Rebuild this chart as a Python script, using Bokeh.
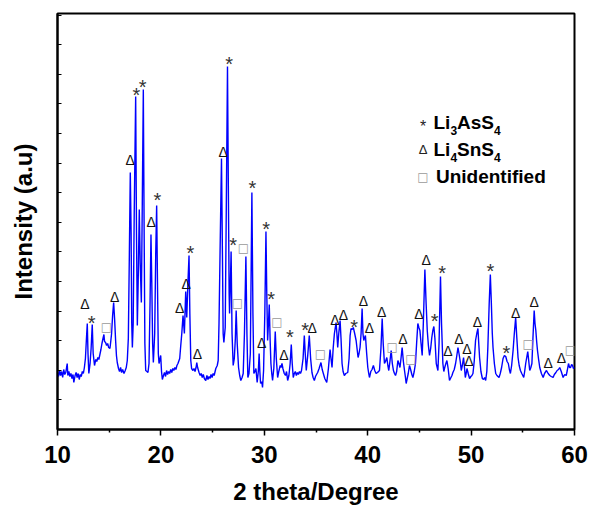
from bokeh.plotting import figure
from bokeh.models import FixedTicker, CustomJSTickFormatter, Range1d
from bokeh.core.properties import value
from bokeh.embed import file_html
from bokeh.resources import INLINE

# ---- XRD pattern (2 theta in degrees, intensity in arbitrary units) ----
two_theta = [
    10.00, 10.10, 10.20, 10.30, 10.40, 10.50, 10.60, 10.70, 10.80, 10.94, 11.00, 11.10, 11.20, 11.30, 11.40, 11.50,
    11.58, 11.70, 11.80, 11.90, 12.00, 12.10, 12.20, 12.30, 12.40, 12.50, 12.60, 12.70, 12.80, 12.88, 12.95, 13.03,
    13.15, 13.25, 13.36, 13.45, 13.58, 13.70, 13.80, 13.90, 14.00, 14.10, 14.20, 14.30, 14.40, 14.49, 14.55, 14.65,
    14.75, 14.85, 14.95, 15.07, 15.15, 15.23, 15.33, 15.43, 15.52, 15.62, 15.70, 15.78, 15.90, 16.00, 16.10, 16.20,
    16.30, 16.43, 16.55, 16.65, 16.75, 16.85, 16.95, 17.04, 17.12, 17.18, 17.24, 17.32, 17.42, 17.56, 17.64, 17.72,
    17.80, 17.91, 18.00, 18.11, 18.20, 18.30, 18.38, 18.45, 18.53, 18.65, 18.75, 18.85, 18.95, 19.04, 19.12, 19.20,
    19.27, 19.40, 19.50, 19.59, 19.67, 19.75, 19.82, 19.90, 19.98, 20.06, 20.14, 20.25, 20.35, 20.45, 20.55, 20.65,
    20.75, 20.85, 20.95, 21.05, 21.15, 21.25, 21.35, 21.45, 21.55, 21.65, 21.82, 21.92, 22.02, 22.14, 22.27, 22.40,
    22.50, 22.61, 22.72, 22.80, 22.89, 22.97, 23.10, 23.20, 23.30, 23.40, 23.47, 23.55, 23.69, 23.80, 23.90, 24.00,
    24.10, 24.20, 24.34, 24.45, 24.55, 24.65, 24.75, 24.85, 24.95, 25.05, 25.15, 25.31, 25.45, 25.54, 25.62, 25.72,
    25.86, 25.95, 26.02, 26.09, 26.22, 26.32, 26.44, 26.52, 26.60, 26.64, 26.72, 26.79, 26.88, 26.99, 27.10, 27.20,
    27.28, 27.38, 27.51, 27.62, 27.73, 27.85, 27.96, 28.08, 28.22, 28.32, 28.41, 28.52, 28.65, 28.80, 28.90, 28.99,
    29.10, 29.19, 29.31, 29.42, 29.50, 29.57, 29.64, 29.75, 29.83, 29.93, 30.05, 30.16, 30.24, 30.32, 30.40, 30.48,
    30.56, 30.64, 30.72, 30.80, 30.92, 31.06, 31.16, 31.29, 31.40, 31.54, 31.62, 31.71, 31.80, 31.93, 32.05, 32.15,
    32.26, 32.38, 32.50, 32.61, 32.70, 32.80, 32.90, 33.00, 33.10, 33.20, 33.30, 33.40, 33.50, 33.60, 33.75, 33.87,
    33.96, 34.06, 34.20, 34.35, 34.48, 34.61, 34.72, 34.84, 34.95, 35.05, 35.16, 35.30, 35.48, 35.60, 35.71, 35.85,
    36.04, 36.20, 36.36, 36.45, 36.55, 36.66, 36.78, 36.94, 37.02, 37.10, 37.20, 37.33, 37.42, 37.52, 37.62, 37.74,
    37.88, 38.07, 38.20, 38.30, 38.39, 38.50, 38.61, 38.74, 38.88, 38.98, 39.07, 39.16, 39.26, 39.36, 39.46, 39.54,
    39.62, 39.70, 39.78, 39.90, 40.01, 40.10, 40.17, 40.30, 40.42, 40.55, 40.68, 40.81, 40.95, 41.14, 41.28, 41.40,
    41.50, 41.62, 41.72, 41.85, 41.95, 42.04, 42.15, 42.27, 42.38, 42.49, 42.59, 42.69, 42.80, 42.92, 43.02, 43.12,
    43.22, 43.33, 43.45, 43.56, 43.64, 43.72, 43.82, 43.92, 44.04, 44.15, 44.27, 44.37, 44.50, 44.62, 44.73, 44.85,
    44.95, 45.05, 45.16, 45.27, 45.38, 45.53, 45.65, 45.76, 45.87, 45.98, 46.09, 46.20, 46.30, 46.40, 46.50, 46.63,
    46.79, 46.90, 47.04, 47.14, 47.27, 47.36, 47.45, 47.56, 47.66, 47.78, 47.91, 48.05, 48.15, 48.24, 48.37, 48.50,
    48.62, 48.73, 48.83, 48.95, 49.05, 49.15, 49.27, 49.36, 49.44, 49.52, 49.60, 49.72, 49.85, 49.98, 50.08, 50.18,
    50.30, 50.43, 50.55, 50.66, 50.74, 50.82, 50.95, 51.09, 51.20, 51.31, 51.41, 51.52, 51.62, 51.75, 51.86, 51.96,
    52.05, 52.12, 52.25, 52.38, 52.50, 52.60, 52.70, 52.82, 52.95, 53.09, 53.22, 53.35, 53.48, 53.60, 53.70, 53.80,
    53.92, 54.06, 54.18, 54.31, 54.42, 54.54, 54.65, 54.77, 54.90, 55.00, 55.09, 55.18, 55.28, 55.38, 55.48, 55.58,
    55.67, 55.78, 55.88, 55.98, 56.10, 56.18, 56.26, 56.34, 56.42, 56.53, 56.64, 56.80, 56.97, 57.10, 57.29, 57.45,
    57.61, 57.75, 57.93, 58.05, 58.20, 58.32, 58.45, 58.57, 58.72, 58.90, 59.05, 59.20, 59.30, 59.42, 59.52, 59.62,
    59.72, 59.81, 59.90, 60.00,
]
intensity = [
    61, 57, 63, 58, 62, 56, 64, 59, 61, 70, 58, 62, 57, 60, 55, 59,
    51, 58, 61, 56, 60, 54, 59, 57, 62, 60, 66, 75, 95, 110, 80, 60,
    70, 85, 109, 80, 68, 74, 72, 76, 74, 79, 84, 90, 95, 99, 92, 91,
    88, 90, 86, 85, 92, 100, 118, 131, 115, 93, 78, 71, 65, 62, 66, 61,
    64, 60, 63, 66, 73, 95, 180, 261, 200, 110, 86, 110, 220, 337, 200, 108,
    150, 224, 170, 131, 230, 344, 200, 90, 63, 62, 61, 70, 130, 199, 150, 90,
    71, 100, 180, 228, 150, 80, 70, 74, 78, 62, 54, 58, 61, 57, 63, 59,
    62, 60, 64, 61, 65, 63, 66, 64, 68, 70, 75, 88, 100, 118, 100, 142,
    116, 150, 178, 120, 73, 65, 63, 65, 62, 66, 71, 66, 61, 58, 60, 56,
    59, 55, 53, 58, 54, 57, 55, 59, 56, 60, 58, 65, 68, 73, 110, 180,
    275, 180, 100, 91, 106, 220, 367, 250, 140, 120, 150, 182, 100, 68, 75, 95,
    123, 90, 66, 58, 53, 56, 60, 100, 177, 100, 56, 60, 80, 241, 120, 60,
    62, 65, 51, 62, 80, 62, 50, 52, 46, 63, 120, 202, 140, 93, 110, 129,
    95, 70, 60, 53, 65, 102, 75, 56, 62, 68, 66, 70, 65, 60, 58, 62,
    53, 58, 70, 89, 70, 56, 60, 62, 58, 61, 59, 62, 60, 63, 75, 98,
    80, 63, 78, 98, 75, 61, 56, 53, 57, 59, 61, 65, 71, 64, 60, 55,
    51, 65, 84, 75, 66, 85, 100, 111, 100, 86, 100, 113, 95, 70, 62, 58,
    60, 61, 75, 98, 105, 104, 106, 100, 93, 84, 76, 80, 86, 100, 125, 100,
    93, 96, 98, 80, 66, 60, 56, 62, 64, 68, 63, 60, 61, 63, 85, 115,
    90, 70, 72, 76, 68, 63, 72, 83, 70, 63, 60, 58, 62, 73, 70, 66,
    75, 86, 72, 63, 57, 50, 55, 60, 68, 64, 59, 56, 62, 70, 90, 110,
    106, 103, 90, 78, 110, 164, 130, 103, 88, 78, 85, 96, 103, 107, 95, 70,
    63, 90, 157, 110, 70, 62, 66, 70, 73, 65, 53, 56, 58, 61, 64, 70,
    78, 86, 80, 72, 63, 68, 76, 66, 56, 60, 65, 60, 55, 57, 58, 60,
    72, 93, 100, 105, 90, 76, 62, 55, 54, 56, 53, 62, 86, 130, 159, 130,
    100, 86, 70, 60, 58, 57, 56, 60, 66, 75, 78, 77, 72, 70, 64, 60,
    68, 83, 100, 116, 96, 76, 68, 63, 60, 58, 56, 62, 70, 76, 82, 72,
    63, 66, 70, 95, 123, 110, 103, 92, 83, 74, 66, 60, 56, 60, 63, 60,
    58, 57, 56, 59, 61, 63, 64, 66, 62, 56, 59, 58, 63, 70, 66, 66,
    69, 68, 65, 66,
]

# ---- Phase markers above peaks ----
li3ass4_x = [13.29, 17.62, 18.24, 19.66, 22.85, 26.60, 26.99, 28.86, 30.19, 30.67, 32.48, 33.96, 38.68, 46.47, 47.21, 51.86, 53.41]
li3ass4_y = [116, 344, 352, 239, 186, 375, 194, 251, 210, 140, 102, 109, 112, 118, 166, 168, 86]
li4sns4_x = [12.65, 15.52, 17.04, 19.07, 21.82, 22.44, 23.53, 26.02, 29.74, 31.90, 34.64, 36.84, 37.65, 39.59,
             40.17, 41.36, 43.40, 44.95, 45.66, 47.76, 48.83, 49.60, 49.80, 50.60, 54.31, 56.10, 57.45, 58.74]
li4sns4_y = [130, 137, 274, 212, 126, 150, 80, 282, 91, 79, 106, 114, 119, 133,
             106, 122, 95, 120, 174, 83, 95, 85, 73, 112, 121, 132, 71, 76]
unident_x = [14.72, 27.41, 27.99, 31.22, 35.42, 42.36, 44.17, 55.51, 59.61]
unident_y = [107, 131, 186, 112, 80, 87, 75, 90, 84]

x_ticks = [10, 20, 30, 40, 50, 60]
x_minor = [15, 25, 35, 45, 55]

FONT = "Liberation Sans"

p = figure(frame_width=517, frame_height=416, output_backend="svg", toolbar_location=None,
           x_range=Range1d(10, 60), y_range=Range1d(4, 420),
           min_border_left=57, min_border_top=13, min_border_right=14, min_border_bottom=2)
p.background_fill_color = "white"
p.border_fill_color = "white"
p.xgrid.visible = False
p.ygrid.visible = False
p.outline_line_color = "black"
p.outline_line_width = 2

p.line(two_theta, intensity, line_color="#0000ff", line_width=1.4)

# markers
p.text(li3ass4_x, li3ass4_y, text=["*"] * len(li3ass4_x), text_font=value(FONT), text_font_size="20px",
       text_color="#333333", text_align="center", text_baseline="middle", y_offset=5)
p.text(li4sns4_x, li4sns4_y, text=["\u0394"] * len(li4sns4_x), text_font=value(FONT), text_font_size="14px",
       text_color="#111111", text_align="center", text_baseline="middle")
p.text(unident_x, unident_y, text=["\u25a1"] * len(unident_x), text_font=value("DejaVu Sans"), text_font_size="12px",
       text_color="#9a9a9a", text_align="center", text_baseline="middle")

# legend (manual, to allow subscripts)
lx_sym = 45.35
lx_txt = 46.36
ly = [311, 284, 257]
p.text([lx_sym], [ly[0]], text=["*"], text_font=value(FONT), text_font_size="16px", text_color="#222222",
       text_align="center", text_baseline="middle", y_offset=4)
p.text([lx_sym], [ly[1]], text=["\u0394"], text_font=value(FONT), text_font_size="13px", text_color="#222222",
       text_align="center", text_baseline="middle")
p.text([lx_sym], [ly[2]], text=["\u25a1"], text_font=value("DejaVu Sans"), text_font_size="12px", text_color="#9a9a9a",
       text_align="center", text_baseline="middle")

def legend_piece(txt, row, dx, size, dy=0):
    p.text([lx_txt], [ly[row]], text=[txt], text_font=value(FONT), text_font_size=size,
           text_font_style="bold", text_color="black", text_align="left", text_baseline="middle",
           x_offset=dx, y_offset=dy)

legend_piece("Li", 0, 0, "19px")
legend_piece("3", 0, 17, "12px", 8)
legend_piece("AsS", 0, 23.5, "19px")
legend_piece("4", 0, 60.5, "12px", 8)
legend_piece("Li", 1, 0, "19px")
legend_piece("4", 1, 17, "12px", 8)
legend_piece("SnS", 1, 23.5, "19px")
legend_piece("4", 1, 60.5, "12px", 8)
legend_piece("Unidentified", 2, 2.5, "19px")

# x axis
xa = p.xaxis[0]
xa.ticker = FixedTicker(ticks=x_ticks, minor_ticks=x_minor)
xa.axis_line_width = 2
xa.major_tick_in = 0
xa.major_tick_out = 6
xa.minor_tick_in = 0
xa.minor_tick_out = 3
xa.major_tick_line_width = 1.5
xa.minor_tick_line_width = 1.5
xa.major_label_text_font = FONT
xa.major_label_text_font_size = "24px"
xa.major_label_text_font_style = "bold"
xa.major_label_text_color = "black"
xa.major_label_standoff = 10
xa.axis_label = "2 theta/Degree"
xa.axis_label_text_font = FONT
xa.axis_label_text_font_size = "24px"
xa.axis_label_text_font_style = "bold"
xa.axis_label_text_color = "black"
xa.axis_label_standoff = 12

# y axis
ya = p.yaxis[0]
ya.ticker = FixedTicker(ticks=[4 + 29.6 * k for k in range(15)])
ya.formatter = CustomJSTickFormatter(code="return ''")
ya.axis_line_width = 2
ya.major_tick_in = 4
ya.major_tick_out = 0
ya.major_tick_line_width = 1
ya.minor_tick_line_color = None
ya.major_label_standoff = 0
ya.axis_label = "Intensity (a.u)"
ya.axis_label_text_font = FONT
ya.axis_label_text_font_size = "24px"
ya.axis_label_text_font_style = "bold"
ya.axis_label_text_color = "black"
ya.axis_label_standoff = 21

open("out.html", "w").write(file_html(p, INLINE))
